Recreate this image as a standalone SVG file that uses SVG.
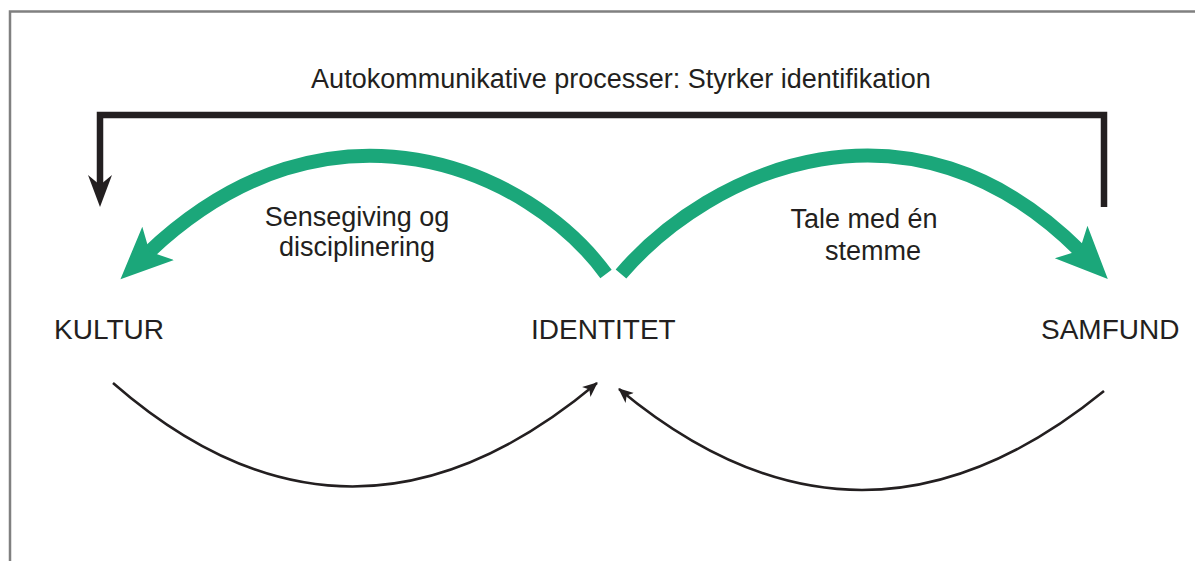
<svg xmlns="http://www.w3.org/2000/svg" width="1195" height="561" viewBox="0 0 1195 561">
  <style>
    .lbl { font-family: "Liberation Sans", Arial, sans-serif; font-size: 27px; fill: #231f20; }
    .node { font-size: 28px; }
    .frame { fill: none; stroke: #808080; stroke-width: 2.5; }
    .green { fill: none; stroke: #1ba77a; stroke-width: 14; }
    .thin { fill: none; stroke: #231f20; stroke-width: 2.5; }
    .bracket { fill: none; stroke: #231f20; stroke-width: 6.5; }
  </style>
  <defs>
    <marker id="headGreen" markerUnits="userSpaceOnUse" markerWidth="64" markerHeight="54" viewBox="0 -27 64 54" refX="14" refY="0" orient="auto">
      <path d="M52 0 L0 -23 L12 0 L0 23 Z" fill="#1ba77a"/>
    </marker>
    <marker id="headThin" markerUnits="userSpaceOnUse" markerWidth="20" markerHeight="16" viewBox="0 -8 20 16" refX="14" refY="0" orient="auto">
      <path d="M15 0 L0 -6.5 L4 0 L0 6.5 Z" fill="#231f20"/>
    </marker>
    <marker id="headBracket" markerUnits="userSpaceOnUse" markerWidth="36" markerHeight="30" viewBox="0 -15 36 30" refX="12" refY="0" orient="auto">
      <path d="M32 0 L0 -12 L10 0 L0 12 Z" fill="#231f20"/>
    </marker>
  </defs>

  <rect width="1195" height="561" fill="#ffffff"/>
  <!-- outer frame (top and left edges) -->
  <path class="frame" d="M10 561 V11.5 H1195"/>

  <!-- nodes -->
  <g id="title">
    <text class="lbl" x="621" y="88" text-anchor="middle">Autokommunikative processer: Styrker identifikation</text>
  </g>
  <g id="kultur">
    <text class="lbl node" x="54" y="339">KULTUR</text>
  </g>
  <g id="identitet">
    <text class="lbl node" x="531" y="339">IDENTITET</text>
  </g>
  <g id="samfund">
    <text class="lbl node" x="1041" y="339">SAMFUND</text>
  </g>
  <g id="label-sensegiving">
    <text class="lbl" x="357" y="226" text-anchor="middle">Sensegiving og</text>
    <text class="lbl" x="357" y="256" text-anchor="middle">disciplinering</text>
  </g>
  <g id="label-tale">
    <text class="lbl" x="864" y="228" text-anchor="middle">Tale med én</text>
    <text class="lbl" x="873" y="260" text-anchor="middle">stemme</text>
  </g>

  <!-- connectors -->
  <g id="connectors">
    <path class="bracket" d="M1104 207 V115 H100 V187" marker-end="url(#headBracket)"/>
    <path class="green" d="M606 274 C530 170 330 80 148 253" marker-end="url(#headGreen)"/>
    <path class="green" d="M621 274 C710 170 910 80 1081 252" marker-end="url(#headGreen)"/>
    <path class="thin" d="M113 383 Q350 590 597 383" marker-end="url(#headThin)"/>
    <path class="thin" d="M1104 391 Q860 590 619 389" marker-end="url(#headThin)"/>
  </g>
</svg>
